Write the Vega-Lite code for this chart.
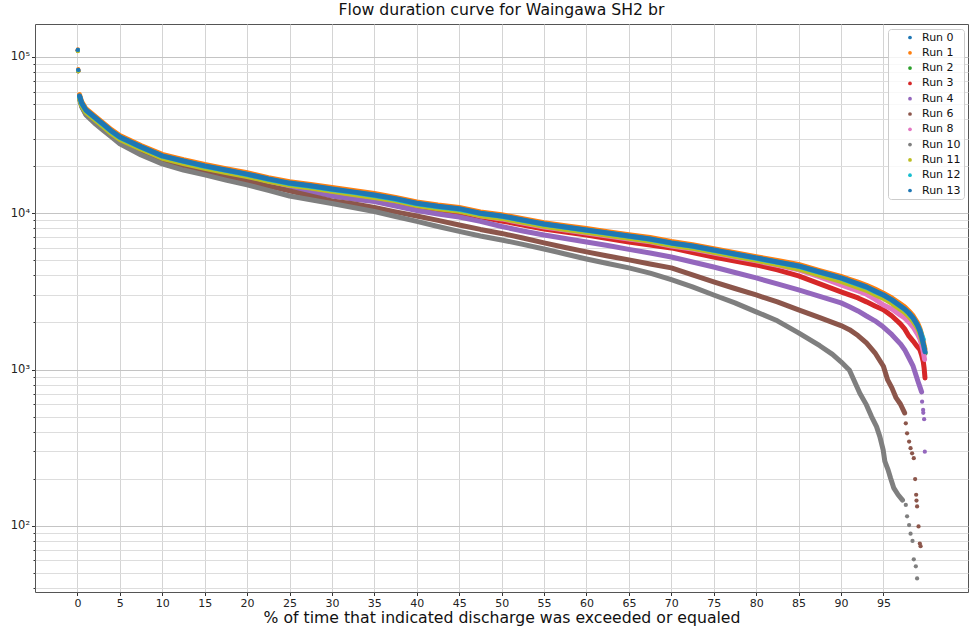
{
  "$schema": "https://vega.github.io/schema/vega-lite/v6.json",
  "width": 933,
  "height": 568,
  "autosize": "none",
  "padding": {"left": 35, "top": 24, "right": 2, "bottom": 38},
  "background": "white",
  "title": {"text": "Flow duration curve for Waingawa SH2 br", "font": "DejaVu Sans", "fontSize": 15.7, "fontWeight": "normal", "color": "#111111", "offset": 5},
  "config": {
    "view": {"stroke": "#555555", "strokeWidth": 1},
    "legend": {"orient": "none", "legendX": 853, "legendY": 5, "padding": 3, "symbolOffset": 13.5, "labelOffset": 6.5, "rowPadding": 3.3, "labelFont": "DejaVu Sans", "labelFontSize": 11, "labelColor": "#111111", "symbolType": "circle", "symbolSize": 14, "symbolStrokeWidth": 0, "strokeColor": "#cccccc", "fillColor": "rgba(255,255,255,0.8)", "cornerRadius": 3, "title": null}
  },
  "data": {"values": [
    {"r":"Run 0","p":0.05,"q":110000},{"r":"Run 0","p":0.1,"q":82000},{"r":"Run 0","p":0.25,"q":55800},{"r":"Run 0","p":0.5,"q":50300},{"r":"Run 0","p":1,"q":45300},{"r":"Run 0","p":2,"q":40900},{"r":"Run 0","p":3,"q":36900},{"r":"Run 0","p":4,"q":33300},{"r":"Run 0","p":5,"q":30500},{"r":"Run 0","p":7.5,"q":26300},{"r":"Run 0","p":10,"q":23100},{"r":"Run 0","p":12.5,"q":21400},{"r":"Run 0","p":15,"q":19900},{"r":"Run 0","p":17.5,"q":18700},{"r":"Run 0","p":20,"q":17600},{"r":"Run 0","p":22.5,"q":16400},{"r":"Run 0","p":25,"q":15400},{"r":"Run 0","p":27.5,"q":14900},{"r":"Run 0","p":30,"q":14200},{"r":"Run 0","p":32.5,"q":13600},{"r":"Run 0","p":35,"q":13000},{"r":"Run 0","p":37.5,"q":12300},{"r":"Run 0","p":40,"q":11500},{"r":"Run 0","p":42.5,"q":11000},{"r":"Run 0","p":45,"q":10600},{"r":"Run 0","p":47.5,"q":9900},{"r":"Run 0","p":50,"q":9510},{"r":"Run 0","p":52.5,"q":8970},{"r":"Run 0","p":55,"q":8450},{"r":"Run 0","p":57.5,"q":8090},{"r":"Run 0","p":60,"q":7740},{"r":"Run 0","p":62.5,"q":7410},{"r":"Run 0","p":65,"q":7090},{"r":"Run 0","p":67.5,"q":6780},{"r":"Run 0","p":70,"q":6400},{"r":"Run 0","p":72.5,"q":6120},{"r":"Run 0","p":75,"q":5760},{"r":"Run 0","p":77.5,"q":5440},{"r":"Run 0","p":80,"q":5130},{"r":"Run 0","p":82.5,"q":4830},{"r":"Run 0","p":85,"q":4550},{"r":"Run 0","p":87.5,"q":4170},{"r":"Run 0","p":90,"q":3820},{"r":"Run 0","p":91,"q":3650},{"r":"Run 0","p":92,"q":3490},{"r":"Run 0","p":93,"q":3350},{"r":"Run 0","p":94,"q":3150},{"r":"Run 0","p":95,"q":2970},{"r":"Run 0","p":96,"q":2760},{"r":"Run 0","p":97,"q":2520},{"r":"Run 0","p":97.5,"q":2420},{"r":"Run 0","p":98,"q":2280},{"r":"Run 0","p":98.5,"q":2120},{"r":"Run 0","p":99,"q":1910},{"r":"Run 0","p":99.3,"q":1750},{"r":"Run 0","p":99.5,"q":1600},{"r":"Run 0","p":99.7,"q":1440},{"r":"Run 0","p":99.9,"q":1280},

    {"r":"Run 1","p":0.05,"q":112000},{"r":"Run 1","p":0.1,"q":83500},{"r":"Run 1","p":0.25,"q":57400},{"r":"Run 1","p":0.5,"q":51800},{"r":"Run 1","p":1,"q":46700},{"r":"Run 1","p":2,"q":42100},{"r":"Run 1","p":3,"q":38000},{"r":"Run 1","p":4,"q":34300},{"r":"Run 1","p":5,"q":31400},{"r":"Run 1","p":7.5,"q":27100},{"r":"Run 1","p":10,"q":23800},{"r":"Run 1","p":12.5,"q":22000},{"r":"Run 1","p":15,"q":20500},{"r":"Run 1","p":17.5,"q":19300},{"r":"Run 1","p":20,"q":18200},{"r":"Run 1","p":22.5,"q":16900},{"r":"Run 1","p":25,"q":15900},{"r":"Run 1","p":27.5,"q":15300},{"r":"Run 1","p":30,"q":14600},{"r":"Run 1","p":32.5,"q":14000},{"r":"Run 1","p":35,"q":13400},{"r":"Run 1","p":37.5,"q":12600},{"r":"Run 1","p":40,"q":11800},{"r":"Run 1","p":42.5,"q":11300},{"r":"Run 1","p":45,"q":10900},{"r":"Run 1","p":47.5,"q":10200},{"r":"Run 1","p":50,"q":9800},{"r":"Run 1","p":52.5,"q":9240},{"r":"Run 1","p":55,"q":8710},{"r":"Run 1","p":57.5,"q":8330},{"r":"Run 1","p":60,"q":7980},{"r":"Run 1","p":62.5,"q":7630},{"r":"Run 1","p":65,"q":7300},{"r":"Run 1","p":67.5,"q":6990},{"r":"Run 1","p":70,"q":6590},{"r":"Run 1","p":72.5,"q":6300},{"r":"Run 1","p":75,"q":5940},{"r":"Run 1","p":77.5,"q":5600},{"r":"Run 1","p":80,"q":5280},{"r":"Run 1","p":82.5,"q":4980},{"r":"Run 1","p":85,"q":4700},{"r":"Run 1","p":87.5,"q":4300},{"r":"Run 1","p":90,"q":3950},{"r":"Run 1","p":91,"q":3780},{"r":"Run 1","p":92,"q":3620},{"r":"Run 1","p":93,"q":3460},{"r":"Run 1","p":94,"q":3270},{"r":"Run 1","p":95,"q":3080},{"r":"Run 1","p":96,"q":2870},{"r":"Run 1","p":97,"q":2630},{"r":"Run 1","p":97.5,"q":2520},{"r":"Run 1","p":98,"q":2370},{"r":"Run 1","p":98.5,"q":2210},{"r":"Run 1","p":99,"q":2000},{"r":"Run 1","p":99.3,"q":1830},{"r":"Run 1","p":99.5,"q":1680},{"r":"Run 1","p":99.7,"q":1510},{"r":"Run 1","p":99.9,"q":1350},

    {"r":"Run 2","p":0.05,"q":110000},{"r":"Run 2","p":0.1,"q":81500},{"r":"Run 2","p":0.25,"q":55200},{"r":"Run 2","p":0.5,"q":49800},{"r":"Run 2","p":1,"q":44900},{"r":"Run 2","p":2,"q":40500},{"r":"Run 2","p":3,"q":36600},{"r":"Run 2","p":4,"q":32900},{"r":"Run 2","p":5,"q":30200},{"r":"Run 2","p":7.5,"q":26100},{"r":"Run 2","p":10,"q":22800},{"r":"Run 2","p":12.5,"q":21200},{"r":"Run 2","p":15,"q":19700},{"r":"Run 2","p":17.5,"q":18500},{"r":"Run 2","p":20,"q":17400},{"r":"Run 2","p":22.5,"q":16300},{"r":"Run 2","p":25,"q":15300},{"r":"Run 2","p":27.5,"q":14700},{"r":"Run 2","p":30,"q":14000},{"r":"Run 2","p":32.5,"q":13400},{"r":"Run 2","p":35,"q":12800},{"r":"Run 2","p":37.5,"q":12200},{"r":"Run 2","p":40,"q":11400},{"r":"Run 2","p":42.5,"q":10900},{"r":"Run 2","p":45,"q":10500},{"r":"Run 2","p":47.5,"q":9800},{"r":"Run 2","p":50,"q":9420},{"r":"Run 2","p":52.5,"q":8880},{"r":"Run 2","p":55,"q":8370},{"r":"Run 2","p":57.5,"q":8010},{"r":"Run 2","p":60,"q":7660},{"r":"Run 2","p":62.5,"q":7330},{"r":"Run 2","p":65,"q":7020},{"r":"Run 2","p":67.5,"q":6710},{"r":"Run 2","p":70,"q":6330},{"r":"Run 2","p":72.5,"q":6060},{"r":"Run 2","p":75,"q":5700},{"r":"Run 2","p":77.5,"q":5380},{"r":"Run 2","p":80,"q":5080},{"r":"Run 2","p":82.5,"q":4780},{"r":"Run 2","p":85,"q":4510},{"r":"Run 2","p":87.5,"q":4130},{"r":"Run 2","p":90,"q":3780},{"r":"Run 2","p":91,"q":3620},{"r":"Run 2","p":92,"q":3460},{"r":"Run 2","p":93,"q":3310},{"r":"Run 2","p":94,"q":3120},{"r":"Run 2","p":95,"q":2940},{"r":"Run 2","p":96,"q":2730},{"r":"Run 2","p":97,"q":2500},{"r":"Run 2","p":97.5,"q":2390},{"r":"Run 2","p":98,"q":2250},{"r":"Run 2","p":98.5,"q":2100},{"r":"Run 2","p":99,"q":1890},{"r":"Run 2","p":99.3,"q":1730},{"r":"Run 2","p":99.5,"q":1580},{"r":"Run 2","p":99.7,"q":1420},{"r":"Run 2","p":99.9,"q":1270},

    {"r":"Run 3","p":0.05,"q":110000},{"r":"Run 3","p":0.1,"q":82000},{"r":"Run 3","p":0.25,"q":55500},{"r":"Run 3","p":0.5,"q":50000},{"r":"Run 3","p":1,"q":44500},{"r":"Run 3","p":2,"q":40100},{"r":"Run 3","p":3,"q":36200},{"r":"Run 3","p":4,"q":32600},{"r":"Run 3","p":5,"q":29900},{"r":"Run 3","p":7.5,"q":25800},{"r":"Run 3","p":10,"q":22600},{"r":"Run 3","p":12.5,"q":21000},{"r":"Run 3","p":15,"q":19500},{"r":"Run 3","p":17.5,"q":18400},{"r":"Run 3","p":20,"q":17300},{"r":"Run 3","p":22.5,"q":16000},{"r":"Run 3","p":25,"q":14950},{"r":"Run 3","p":27.5,"q":14100},{"r":"Run 3","p":30,"q":13400},{"r":"Run 3","p":32.5,"q":12800},{"r":"Run 3","p":35,"q":12350},{"r":"Run 3","p":37.5,"q":11640},{"r":"Run 3","p":40,"q":10970},{"r":"Run 3","p":42.5,"q":10500},{"r":"Run 3","p":45,"q":10040},{"r":"Run 3","p":47.5,"q":9470},{"r":"Run 3","p":50,"q":8930},{"r":"Run 3","p":52.5,"q":8420},{"r":"Run 3","p":55,"q":7935},{"r":"Run 3","p":57.5,"q":7590},{"r":"Run 3","p":60,"q":7260},{"r":"Run 3","p":62.5,"q":6900},{"r":"Run 3","p":65,"q":6550},{"r":"Run 3","p":67.5,"q":6270},{"r":"Run 3","p":70,"q":6000},{"r":"Run 3","p":72.5,"q":5610},{"r":"Run 3","p":75,"q":5250},{"r":"Run 3","p":77.5,"q":4950},{"r":"Run 3","p":80,"q":4670},{"r":"Run 3","p":82.5,"q":4340},{"r":"Run 3","p":85,"q":3970},{"r":"Run 3","p":87.5,"q":3530},{"r":"Run 3","p":90,"q":3140},{"r":"Run 3","p":91,"q":3000},{"r":"Run 3","p":92,"q":2870},{"r":"Run 3","p":93,"q":2710},{"r":"Run 3","p":94,"q":2550},{"r":"Run 3","p":95,"q":2410},{"r":"Run 3","p":96,"q":2200},{"r":"Run 3","p":97,"q":1960},{"r":"Run 3","p":97.5,"q":1820},{"r":"Run 3","p":98,"q":1640},{"r":"Run 3","p":98.5,"q":1520},{"r":"Run 3","p":99,"q":1400},{"r":"Run 3","p":99.3,"q":1340},{"r":"Run 3","p":99.5,"q":1240},{"r":"Run 3","p":99.7,"q":1120},{"r":"Run 3","p":99.8,"q":1020},{"r":"Run 3","p":99.9,"q":884},

    {"r":"Run 4","p":0.05,"q":110000},{"r":"Run 4","p":0.1,"q":81500},{"r":"Run 4","p":0.25,"q":55500},{"r":"Run 4","p":0.5,"q":49300},{"r":"Run 4","p":1,"q":43800},{"r":"Run 4","p":2,"q":39500},{"r":"Run 4","p":3,"q":35700},{"r":"Run 4","p":4,"q":32200},{"r":"Run 4","p":5,"q":29400},{"r":"Run 4","p":7.5,"q":25000},{"r":"Run 4","p":10,"q":21900},{"r":"Run 4","p":12.5,"q":20400},{"r":"Run 4","p":15,"q":18900},{"r":"Run 4","p":17.5,"q":17800},{"r":"Run 4","p":20,"q":16800},{"r":"Run 4","p":22.5,"q":15500},{"r":"Run 4","p":25,"q":14500},{"r":"Run 4","p":27.5,"q":13700},{"r":"Run 4","p":30,"q":12900},{"r":"Run 4","p":32.5,"q":12350},{"r":"Run 4","p":35,"q":11900},{"r":"Run 4","p":37.5,"q":11140},{"r":"Run 4","p":40,"q":10420},{"r":"Run 4","p":42.5,"q":9900},{"r":"Run 4","p":45,"q":9470},{"r":"Run 4","p":47.5,"q":8870},{"r":"Run 4","p":50,"q":8230},{"r":"Run 4","p":52.5,"q":7700},{"r":"Run 4","p":55,"q":7260},{"r":"Run 4","p":57.5,"q":6900},{"r":"Run 4","p":60,"q":6550},{"r":"Run 4","p":62.5,"q":6220},{"r":"Run 4","p":65,"q":5870},{"r":"Run 4","p":67.5,"q":5570},{"r":"Run 4","p":70,"q":5250},{"r":"Run 4","p":72.5,"q":4880},{"r":"Run 4","p":75,"q":4530},{"r":"Run 4","p":77.5,"q":4180},{"r":"Run 4","p":80,"q":3860},{"r":"Run 4","p":82.5,"q":3530},{"r":"Run 4","p":85,"q":3230},{"r":"Run 4","p":87.5,"q":2940},{"r":"Run 4","p":90,"q":2670},{"r":"Run 4","p":91,"q":2520},{"r":"Run 4","p":92,"q":2370},{"r":"Run 4","p":93,"q":2200},{"r":"Run 4","p":94,"q":2050},{"r":"Run 4","p":95,"q":1870},{"r":"Run 4","p":96,"q":1670},{"r":"Run 4","p":97,"q":1460},{"r":"Run 4","p":97.5,"q":1340},{"r":"Run 4","p":98,"q":1190},{"r":"Run 4","p":98.5,"q":1050},{"r":"Run 4","p":98.9,"q":900},{"r":"Run 4","p":99.1,"q":833},{"r":"Run 4","p":99.3,"q":774},{"r":"Run 4","p":99.5,"q":719},{"r":"Run 4","p":99.56,"q":623},{"r":"Run 4","p":99.68,"q":551},{"r":"Run 4","p":99.7,"q":528},{"r":"Run 4","p":99.8,"q":481},{"r":"Run 4","p":99.88,"q":298},

    {"r":"Run 6","p":0.05,"q":110000},{"r":"Run 6","p":0.1,"q":81000},{"r":"Run 6","p":0.25,"q":54700},{"r":"Run 6","p":0.5,"q":48600},{"r":"Run 6","p":1,"q":43200},{"r":"Run 6","p":2,"q":39000},{"r":"Run 6","p":3,"q":34600},{"r":"Run 6","p":4,"q":31200},{"r":"Run 6","p":5,"q":28600},{"r":"Run 6","p":7.5,"q":24300},{"r":"Run 6","p":10,"q":21300},{"r":"Run 6","p":12.5,"q":19800},{"r":"Run 6","p":15,"q":18400},{"r":"Run 6","p":17.5,"q":17200},{"r":"Run 6","p":20,"q":16100},{"r":"Run 6","p":22.5,"q":14950},{"r":"Run 6","p":25,"q":13900},{"r":"Run 6","p":27.5,"q":12900},{"r":"Run 6","p":30,"q":12000},{"r":"Run 6","p":32.5,"q":11500},{"r":"Run 6","p":35,"q":10900},{"r":"Run 6","p":37.5,"q":10200},{"r":"Run 6","p":40,"q":9610},{"r":"Run 6","p":42.5,"q":9000},{"r":"Run 6","p":45,"q":8420},{"r":"Run 6","p":47.5,"q":7880},{"r":"Run 6","p":50,"q":7430},{"r":"Run 6","p":52.5,"q":6950},{"r":"Run 6","p":55,"q":6460},{"r":"Run 6","p":57.5,"q":6040},{"r":"Run 6","p":60,"q":5660},{"r":"Run 6","p":62.5,"q":5330},{"r":"Run 6","p":65,"q":5030},{"r":"Run 6","p":67.5,"q":4740},{"r":"Run 6","p":70,"q":4470},{"r":"Run 6","p":72.5,"q":4030},{"r":"Run 6","p":75,"q":3640},{"r":"Run 6","p":77.5,"q":3300},{"r":"Run 6","p":80,"q":3000},{"r":"Run 6","p":82.5,"q":2710},{"r":"Run 6","p":85,"q":2410},{"r":"Run 6","p":87.5,"q":2150},{"r":"Run 6","p":90,"q":1910},{"r":"Run 6","p":91,"q":1800},{"r":"Run 6","p":92,"q":1650},{"r":"Run 6","p":93,"q":1480},{"r":"Run 6","p":94,"q":1280},{"r":"Run 6","p":95,"q":1050},{"r":"Run 6","p":95.5,"q":858},{"r":"Run 6","p":96,"q":763},{"r":"Run 6","p":96.5,"q":658},{"r":"Run 6","p":97,"q":602},{"r":"Run 6","p":97.5,"q":528},{"r":"Run 6","p":97.64,"q":453},{"r":"Run 6","p":97.79,"q":391},{"r":"Run 6","p":98.03,"q":346},{"r":"Run 6","p":98.2,"q":314},{"r":"Run 6","p":98.38,"q":291},{"r":"Run 6","p":98.58,"q":271},{"r":"Run 6","p":98.74,"q":199},{"r":"Run 6","p":98.86,"q":158},{"r":"Run 6","p":98.9,"q":145},{"r":"Run 6","p":98.97,"q":133},{"r":"Run 6","p":99.14,"q":99},{"r":"Run 6","p":99.29,"q":77},{"r":"Run 6","p":99.38,"q":74},

    {"r":"Run 8","p":0.05,"q":111000},{"r":"Run 8","p":0.1,"q":82300},{"r":"Run 8","p":0.25,"q":55500},{"r":"Run 8","p":0.5,"q":50000},{"r":"Run 8","p":1,"q":45100},{"r":"Run 8","p":2,"q":40700},{"r":"Run 8","p":3,"q":36700},{"r":"Run 8","p":4,"q":33100},{"r":"Run 8","p":5,"q":30300},{"r":"Run 8","p":7.5,"q":26200},{"r":"Run 8","p":10,"q":22900},{"r":"Run 8","p":12.5,"q":21300},{"r":"Run 8","p":15,"q":19800},{"r":"Run 8","p":17.5,"q":18600},{"r":"Run 8","p":20,"q":17400},{"r":"Run 8","p":22.5,"q":16100},{"r":"Run 8","p":25,"q":15100},{"r":"Run 8","p":27.5,"q":14600},{"r":"Run 8","p":30,"q":13900},{"r":"Run 8","p":32.5,"q":13300},{"r":"Run 8","p":35,"q":12700},{"r":"Run 8","p":37.5,"q":12000},{"r":"Run 8","p":40,"q":11300},{"r":"Run 8","p":42.5,"q":10800},{"r":"Run 8","p":45,"q":10400},{"r":"Run 8","p":47.5,"q":9640},{"r":"Run 8","p":50,"q":9200},{"r":"Run 8","p":52.5,"q":8670},{"r":"Run 8","p":55,"q":8170},{"r":"Run 8","p":57.5,"q":7820},{"r":"Run 8","p":60,"q":7480},{"r":"Run 8","p":62.5,"q":7160},{"r":"Run 8","p":65,"q":6850},{"r":"Run 8","p":67.5,"q":6560},{"r":"Run 8","p":70,"q":6180},{"r":"Run 8","p":72.5,"q":5910},{"r":"Run 8","p":75,"q":5570},{"r":"Run 8","p":77.5,"q":5250},{"r":"Run 8","p":80,"q":4960},{"r":"Run 8","p":82.5,"q":4640},{"r":"Run 8","p":85,"q":4340},{"r":"Run 8","p":87.5,"q":3910},{"r":"Run 8","p":90,"q":3480},{"r":"Run 8","p":91,"q":3330},{"r":"Run 8","p":92,"q":3180},{"r":"Run 8","p":93,"q":3030},{"r":"Run 8","p":94,"q":2820},{"r":"Run 8","p":95,"q":2590},{"r":"Run 8","p":96,"q":2440},{"r":"Run 8","p":97,"q":2230},{"r":"Run 8","p":97.5,"q":2140},{"r":"Run 8","p":98,"q":2010},{"r":"Run 8","p":98.5,"q":1870},{"r":"Run 8","p":99,"q":1690},{"r":"Run 8","p":99.3,"q":1570},{"r":"Run 8","p":99.5,"q":1440},{"r":"Run 8","p":99.7,"q":1300},{"r":"Run 8","p":99.85,"q":1160},

    {"r":"Run 10","p":0.05,"q":110000},{"r":"Run 10","p":0.1,"q":81000},{"r":"Run 10","p":0.25,"q":53900},{"r":"Run 10","p":0.5,"q":47900},{"r":"Run 10","p":1,"q":42600},{"r":"Run 10","p":2,"q":37800},{"r":"Run 10","p":3,"q":34100},{"r":"Run 10","p":4,"q":30800},{"r":"Run 10","p":5,"q":27800},{"r":"Run 10","p":7.5,"q":23600},{"r":"Run 10","p":10,"q":20700},{"r":"Run 10","p":12.5,"q":18900},{"r":"Run 10","p":15,"q":17600},{"r":"Run 10","p":17.5,"q":16300},{"r":"Run 10","p":20,"q":15200},{"r":"Run 10","p":22.5,"q":14000},{"r":"Run 10","p":25,"q":12900},{"r":"Run 10","p":27.5,"q":12200},{"r":"Run 10","p":30,"q":11550},{"r":"Run 10","p":32.5,"q":10890},{"r":"Run 10","p":35,"q":10270},{"r":"Run 10","p":37.5,"q":9540},{"r":"Run 10","p":40,"q":8870},{"r":"Run 10","p":42.5,"q":8230},{"r":"Run 10","p":45,"q":7650},{"r":"Run 10","p":47.5,"q":7160},{"r":"Run 10","p":50,"q":6750},{"r":"Run 10","p":52.5,"q":6320},{"r":"Run 10","p":55,"q":5910},{"r":"Run 10","p":57.5,"q":5490},{"r":"Run 10","p":60,"q":5100},{"r":"Run 10","p":62.5,"q":4770},{"r":"Run 10","p":65,"q":4470},{"r":"Run 10","p":67.5,"q":4140},{"r":"Run 10","p":70,"q":3760},{"r":"Run 10","p":72.5,"q":3380},{"r":"Run 10","p":75,"q":3000},{"r":"Run 10","p":77.5,"q":2670},{"r":"Run 10","p":80,"q":2340},{"r":"Run 10","p":82.5,"q":2050},{"r":"Run 10","p":85,"q":1715},{"r":"Run 10","p":87.5,"q":1420},{"r":"Run 10","p":89,"q":1250},{"r":"Run 10","p":90,"q":1120},{"r":"Run 10","p":91,"q":990},{"r":"Run 10","p":92.22,"q":705},{"r":"Run 10","p":93,"q":594},{"r":"Run 10","p":93.6,"q":500},{"r":"Run 10","p":94.19,"q":431},{"r":"Run 10","p":94.58,"q":372},{"r":"Run 10","p":94.97,"q":306},{"r":"Run 10","p":95.17,"q":258},{"r":"Run 10","p":95.55,"q":228},{"r":"Run 10","p":95.84,"q":202},{"r":"Run 10","p":96.23,"q":174},{"r":"Run 10","p":96.73,"q":158},{"r":"Run 10","p":97.25,"q":146},{"r":"Run 10","p":97.64,"q":136},{"r":"Run 10","p":97.79,"q":115},{"r":"Run 10","p":98.03,"q":101},{"r":"Run 10","p":98.2,"q":89},{"r":"Run 10","p":98.43,"q":80},{"r":"Run 10","p":98.58,"q":61},{"r":"Run 10","p":98.82,"q":55},{"r":"Run 10","p":98.97,"q":46},

    {"r":"Run 11","p":0.05,"q":109000},{"r":"Run 11","p":0.1,"q":81000},{"r":"Run 11","p":0.25,"q":54300},{"r":"Run 11","p":0.5,"q":49000},{"r":"Run 11","p":1,"q":44200},{"r":"Run 11","p":2,"q":39900},{"r":"Run 11","p":3,"q":36000},{"r":"Run 11","p":4,"q":32400},{"r":"Run 11","p":5,"q":29700},{"r":"Run 11","p":7.5,"q":25700},{"r":"Run 11","p":10,"q":22500},{"r":"Run 11","p":12.5,"q":20800},{"r":"Run 11","p":15,"q":19400},{"r":"Run 11","p":17.5,"q":18200},{"r":"Run 11","p":20,"q":17200},{"r":"Run 11","p":22.5,"q":16000},{"r":"Run 11","p":25,"q":15100},{"r":"Run 11","p":27.5,"q":14500},{"r":"Run 11","p":30,"q":13800},{"r":"Run 11","p":32.5,"q":13200},{"r":"Run 11","p":35,"q":12600},{"r":"Run 11","p":37.5,"q":12000},{"r":"Run 11","p":40,"q":11200},{"r":"Run 11","p":42.5,"q":10700},{"r":"Run 11","p":45,"q":10300},{"r":"Run 11","p":47.5,"q":9650},{"r":"Run 11","p":50,"q":9270},{"r":"Run 11","p":52.5,"q":8740},{"r":"Run 11","p":55,"q":8240},{"r":"Run 11","p":57.5,"q":7880},{"r":"Run 11","p":60,"q":7550},{"r":"Run 11","p":62.5,"q":7220},{"r":"Run 11","p":65,"q":6910},{"r":"Run 11","p":67.5,"q":6610},{"r":"Run 11","p":70,"q":6230},{"r":"Run 11","p":72.5,"q":5960},{"r":"Run 11","p":75,"q":5620},{"r":"Run 11","p":77.5,"q":5300},{"r":"Run 11","p":80,"q":5000},{"r":"Run 11","p":82.5,"q":4690},{"r":"Run 11","p":85,"q":4400},{"r":"Run 11","p":87.5,"q":4000},{"r":"Run 11","p":90,"q":3670},{"r":"Run 11","p":91,"q":3510},{"r":"Run 11","p":92,"q":3350},{"r":"Run 11","p":93,"q":3210},{"r":"Run 11","p":94,"q":3020},{"r":"Run 11","p":95,"q":2850},{"r":"Run 11","p":96,"q":2650},{"r":"Run 11","p":97,"q":2420},{"r":"Run 11","p":97.5,"q":2320},{"r":"Run 11","p":98,"q":2190},{"r":"Run 11","p":98.5,"q":2030},{"r":"Run 11","p":99,"q":1850},{"r":"Run 11","p":99.3,"q":1700},{"r":"Run 11","p":99.5,"q":1560},{"r":"Run 11","p":99.8,"q":1400},

    {"r":"Run 12","p":0.05,"q":111000},{"r":"Run 12","p":0.1,"q":82500},{"r":"Run 12","p":0.25,"q":56000},{"r":"Run 12","p":0.5,"q":50500},{"r":"Run 12","p":1,"q":45600},{"r":"Run 12","p":2,"q":41100},{"r":"Run 12","p":3,"q":37100},{"r":"Run 12","p":4,"q":33400},{"r":"Run 12","p":5,"q":30600},{"r":"Run 12","p":7.5,"q":26500},{"r":"Run 12","p":10,"q":23200},{"r":"Run 12","p":12.5,"q":21500},{"r":"Run 12","p":15,"q":20000},{"r":"Run 12","p":17.5,"q":18800},{"r":"Run 12","p":20,"q":17700},{"r":"Run 12","p":22.5,"q":16500},{"r":"Run 12","p":25,"q":15500},{"r":"Run 12","p":27.5,"q":14900},{"r":"Run 12","p":30,"q":14200},{"r":"Run 12","p":32.5,"q":13600},{"r":"Run 12","p":35,"q":13000},{"r":"Run 12","p":37.5,"q":12300},{"r":"Run 12","p":40,"q":11500},{"r":"Run 12","p":42.5,"q":11000},{"r":"Run 12","p":45,"q":10600},{"r":"Run 12","p":47.5,"q":9950},{"r":"Run 12","p":50,"q":9560},{"r":"Run 12","p":52.5,"q":9010},{"r":"Run 12","p":55,"q":8500},{"r":"Run 12","p":57.5,"q":8130},{"r":"Run 12","p":60,"q":7780},{"r":"Run 12","p":62.5,"q":7440},{"r":"Run 12","p":65,"q":7120},{"r":"Run 12","p":67.5,"q":6820},{"r":"Run 12","p":70,"q":6430},{"r":"Run 12","p":72.5,"q":6150},{"r":"Run 12","p":75,"q":5790},{"r":"Run 12","p":77.5,"q":5460},{"r":"Run 12","p":80,"q":5150},{"r":"Run 12","p":82.5,"q":4860},{"r":"Run 12","p":85,"q":4580},{"r":"Run 12","p":87.5,"q":4190},{"r":"Run 12","p":90,"q":3840},{"r":"Run 12","p":91,"q":3670},{"r":"Run 12","p":92,"q":3510},{"r":"Run 12","p":93,"q":3360},{"r":"Run 12","p":94,"q":3160},{"r":"Run 12","p":95,"q":2990},{"r":"Run 12","p":96,"q":2780},{"r":"Run 12","p":97,"q":2540},{"r":"Run 12","p":97.5,"q":2430},{"r":"Run 12","p":98,"q":2290},{"r":"Run 12","p":98.5,"q":2130},{"r":"Run 12","p":99,"q":1930},{"r":"Run 12","p":99.3,"q":1790},{"r":"Run 12","p":99.5,"q":1660},{"r":"Run 12","p":99.7,"q":1560},

    {"r":"Run 13","p":0.05,"q":111000},{"r":"Run 13","p":0.1,"q":82600},{"r":"Run 13","p":0.25,"q":56300},{"r":"Run 13","p":0.5,"q":50800},{"r":"Run 13","p":1,"q":45800},{"r":"Run 13","p":2,"q":41300},{"r":"Run 13","p":3,"q":37300},{"r":"Run 13","p":4,"q":33600},{"r":"Run 13","p":5,"q":30800},{"r":"Run 13","p":7.5,"q":26600},{"r":"Run 13","p":10,"q":23300},{"r":"Run 13","p":12.5,"q":21600},{"r":"Run 13","p":15,"q":20100},{"r":"Run 13","p":17.5,"q":18900},{"r":"Run 13","p":20,"q":17800},{"r":"Run 13","p":22.5,"q":16600},{"r":"Run 13","p":25,"q":15600},{"r":"Run 13","p":27.5,"q":15000},{"r":"Run 13","p":30,"q":14300},{"r":"Run 13","p":32.5,"q":13700},{"r":"Run 13","p":35,"q":13100},{"r":"Run 13","p":37.5,"q":12400},{"r":"Run 13","p":40,"q":11600},{"r":"Run 13","p":42.5,"q":11100},{"r":"Run 13","p":45,"q":10700},{"r":"Run 13","p":47.5,"q":10000},{"r":"Run 13","p":50,"q":9610},{"r":"Run 13","p":52.5,"q":9060},{"r":"Run 13","p":55,"q":8540},{"r":"Run 13","p":57.5,"q":8170},{"r":"Run 13","p":60,"q":7820},{"r":"Run 13","p":62.5,"q":7480},{"r":"Run 13","p":65,"q":7160},{"r":"Run 13","p":67.5,"q":6850},{"r":"Run 13","p":70,"q":6460},{"r":"Run 13","p":72.5,"q":6180},{"r":"Run 13","p":75,"q":5820},{"r":"Run 13","p":77.5,"q":5490},{"r":"Run 13","p":80,"q":5180},{"r":"Run 13","p":82.5,"q":4880},{"r":"Run 13","p":85,"q":4600},{"r":"Run 13","p":87.5,"q":4210},{"r":"Run 13","p":90,"q":3860},{"r":"Run 13","p":91,"q":3690},{"r":"Run 13","p":92,"q":3530},{"r":"Run 13","p":93,"q":3380},{"r":"Run 13","p":94,"q":3180},{"r":"Run 13","p":95,"q":3000},{"r":"Run 13","p":96,"q":2790},{"r":"Run 13","p":97,"q":2550},{"r":"Run 13","p":97.5,"q":2440},{"r":"Run 13","p":98,"q":2300},{"r":"Run 13","p":98.5,"q":2140},{"r":"Run 13","p":99,"q":1930},{"r":"Run 13","p":99.3,"q":1770},{"r":"Run 13","p":99.5,"q":1620},{"r":"Run 13","p":99.7,"q":1460},{"r":"Run 13","p":99.9,"q":1300}
  ]},
  "encoding": {
    "x": {
      "field": "p", "type": "quantitative",
      "scale": {"domain": [-5, 104.97], "nice": false, "zero": false},
      "axis": {
        "values": [0, 5, 10, 15, 20, 25, 30, 35, 40, 45, 50, 55, 60, 65, 70, 75, 80, 85, 90, 95],
        "title": "% of time that indicated discharge was exceeded or equaled",
        "titleFont": "DejaVu Sans", "titleFontSize": 15.7, "titleFontWeight": "normal", "titleColor": "#111111", "titlePadding": 2.5,
        "labelFont": "DejaVu Sans", "labelFontSize": 11, "labelColor": "#222222", "labelPadding": 1.5, "labelFlush": false,
        "tickSize": 3.5, "tickColor": "#333333", "domain": false,
        "grid": true, "gridColor": "#d4d4d4", "gridWidth": 1
      }
    },
    "y": {
      "field": "q", "type": "quantitative",
      "scale": {"type": "log", "domain": [37.7, 162600], "nice": false},
      "axis": {
        "values": [40, 50, 60, 70, 80, 90, 100, 200, 300, 400, 500, 600, 700, 800, 900, 1000, 2000, 3000, 4000, 5000, 6000, 7000, 8000, 9000, 10000, 20000, 30000, 40000, 50000, 60000, 70000, 80000, 90000, 100000],
        "labelExpr": "datum.value == 100 ? '10²' : datum.value == 1000 ? '10³' : datum.value == 10000 ? '10⁴' : datum.value == 100000 ? '10⁵' : ''",
        "labelOverlap": false, "labelBound": false,
        "title": null,
        "labelFont": "DejaVu Sans", "labelFontSize": 11.5, "labelColor": "#222222", "labelPadding": 2,
        "tickColor": "#333333",
        "tickSize": {"condition": {"test": "indexof([100, 1000, 10000, 100000], datum.value) >= 0", "value": 3.5}, "value": 2},
        "domain": false,
        "grid": true,
        "gridColor": {"condition": {"test": "indexof([100, 1000, 10000, 100000], datum.value) >= 0", "value": "#c4c4c4"}, "value": "#dddddd"},
        "gridWidth": 1
      }
    }
  },
  "layer": [
    {
      "transform": [{"filter": "datum.p > 0.2 && (datum.p <= 97.6 || datum.q >= 700)"}],
      "mark": {"type": "line", "strokeWidth": 5, "strokeJoin": "round", "strokeCap": "round"},
      "encoding": {
        "stroke": {
          "field": "r", "type": "nominal",
          "scale": {
            "domain": ["Run 0", "Run 1", "Run 2", "Run 3", "Run 4", "Run 6", "Run 8", "Run 10", "Run 11", "Run 12", "Run 13"],
            "range": ["#1f77b4", "#ff7f0e", "#2ca02c", "#d62728", "#9467bd", "#8c564b", "#e377c2", "#7f7f7f", "#bcbd22", "#17becf", "#1f77b4"]
          },
          "legend": {"symbolType": "circle"}
        }
      }
    },
    {
      "transform": [{"filter": "!(datum.p > 0.2 && (datum.p <= 97.6 || datum.q >= 700))"}],
      "mark": {"type": "point", "filled": true, "size": 18, "opacity": 1},
      "encoding": {
        "color": {
          "field": "r", "type": "nominal",
          "scale": {
            "domain": ["Run 0", "Run 1", "Run 2", "Run 3", "Run 4", "Run 6", "Run 8", "Run 10", "Run 11", "Run 12", "Run 13"],
            "range": ["#1f77b4", "#ff7f0e", "#2ca02c", "#d62728", "#9467bd", "#8c564b", "#e377c2", "#7f7f7f", "#bcbd22", "#17becf", "#1f77b4"]
          },
          "legend": {"symbolType": "circle"}
        }
      }
    }
  ]
}
